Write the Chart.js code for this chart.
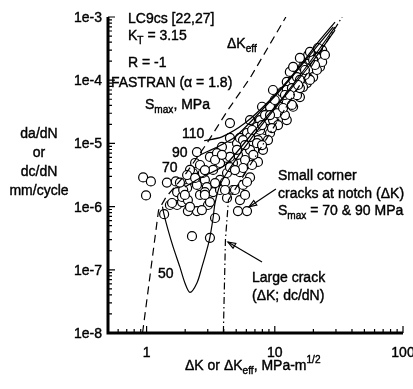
<!DOCTYPE html>
<html>
<head>
<meta charset="utf-8">
<script src="https://cdn.jsdelivr.net/npm/chart.js@4.4.0/dist/chart.umd.min.js"></script>
<style>
html, body { margin: 0; padding: 0; background: #fff; }
</style>
</head>
<body>
<canvas id="c" width="413" height="389"></canvas>
<script>
// axis ticks
var xTicks = [1, 10, 100];
var xTickLabels = ['1', '10', '100'];
var yTicks = [1e-8, 1e-7, 1e-6, 1e-5, 1e-4, 1e-3];
var yTickLabels = ['1e-8', '1e-7', '1e-6', '1e-5', '1e-4', '1e-3'];

// small corner cracks at notch, Smax = 70 & 90 MPa
var crackDK = [0.94, 1.08, 0.99, 1.37, 1.52, 1.73, 1.89, 2.10, 2.47, 2.26, 3.12, 2.61, 3.01, 3.42, 5.16, 6.07,
  1.44, 1.69, 1.58, 1.73, 1.89, 2.07, 2.18, 2.30, 2.10, 2.47, 2.47, 2.39, 3.30, 2.85, 3.30, 3.12, 2.70,
  4.24, 4.72, 5.35, 5.65, 6.41, 7.39, 3.74, 4.72, 4.47, 7.95, 5.07, 3.87, 3.12, 2.61, 2.18, 2.07, 2.39, 2.75,
  4.24, 5.16, 6.41, 7.39, 8.39, 8.69, 7.26, 6.07, 5.35, 4.47, 3.54, 4.47, 5.35, 6.07, 3.74, 2.95, 4.89, 4.24, 2.18,
  9.68, 11.4, 12.4, 15.2, 18.8, 20.6, 22.5, 16.6, 13.9, 11.0, 9.68, 7.67, 6.41, 5.65, 5.07, 4.47, 7.26, 9.18,
  12.4, 13.9, 15.7, 17.8, 19.9, 22.5, 18.2, 21.7, 23.4, 14.9, 13.1, 18.2, 12.4, 9.18, 7.67, 6.41, 7.26, 10.4,
  12.4, 14.9, 16.6, 18.8, 21.3, 19.9, 15.7, 13.9, 23.4,
  5.86, 6.65, 8.09, 8.85, 10.6, 12.0, 13.6, 15.7, 17.2, 5.65, 3.74, 4.09, 3.42, 2.85, 1.93,
  8.39, 10.0, 12.0, 13.6, 15.7, 17.2, 20.6, 24.6, 21.7, 18.8, 11.6, 9.18, 7.95, 6.65, 5.86, 6.8,
  7.95, 9.5, 4.89, 4.09, 2.85, 3.42, 3.87, 2.85, 1.99, 1.82, 5.86, 13.1, 15.2];
var crackRate = [2.9e-6, 2.5e-6, 1.5e-6, 7.6e-7, 1.06e-6, 1.06e-6, 1.18e-6, 8.5e-7, 8.5e-7, 3.4e-7, 3.2e-7, 1.53e-6, 1.06e-6, 6.6e-7, 8.5e-7, 8.5e-7,
  2.4e-6, 2.5e-6, 1.14e-6, 1.7e-6, 1.42e-6, 1.97e-6, 2.64e-6, 3.4e-6, 1.27e-6, 2.2e-6, 7.3e-6, 4.9e-6, 3.8e-6, 2.64e-6, 1.7e-6, 1.18e-6, 8.8e-7,
  3.4e-6, 1.83e-6, 1.27e-6, 2.2e-6, 2.9e-6, 5.1e-6, 4.9e-6, 4.9e-6, 2.1e-5, 3.8e-5, 1.01e-5, 8.8e-6, 6.1e-6, 4.55e-6, 3.8e-6, 3.16e-6, 2.84e-6, 3.4e-6,
  5.9e-6, 6.6e-6, 7.9e-6, 1.13e-5, 1.63e-5, 2.34e-5, 2.1e-5, 1.46e-5, 1.22e-5, 1.22e-5, 7.0e-6, 4.2e-6, 3.5e-6, 2.45e-6, 2.64e-6, 2.04e-6, 1.83e-6, 1.37e-6, 9.9e-7,
  7.0e-5, 6.5e-5, 9.4e-5, 1.3e-4, 2.09e-4, 2.5e-4, 2.7e-4, 1.62e-4, 1.01e-4, 3.8e-5, 2.34e-5, 1.63e-5, 1.26e-5, 1.13e-5, 7.9e-6, 6.1e-6, 1.01e-5, 1.46e-5,
  2.34e-5, 3.8e-5, 5.4e-5, 9.0e-5, 1.12e-4, 1.62e-4, 2.5e-4, 2.3e-4, 1.94e-4, 1.12e-4, 1.35e-4, 1.08e-4, 7.0e-5, 3.8e-5, 2.34e-5, 2.34e-5, 1.82e-5, 3.0e-5,
  4.4e-5, 5.8e-5, 7.8e-5, 1.01e-4, 1.45e-4, 2.09e-4, 2.25e-4, 1.62e-4, 3.0e-4,
  5.46e-6, 4.55e-6, 7.9e-6, 1.13e-5, 1.95e-5, 2.81e-5, 4.06e-5, 7.5e-5, 1.21e-4, 4.08e-6, 1.83e-6, 2.45e-6, 2.36e-6, 1.7e-6, 1.83e-6,
  2.81e-5, 4.86e-5, 5.83e-5, 7.5e-5, 1.01e-4, 1.45e-4, 1.74e-4, 2.51e-4, 3.23e-4, 2.8e-4, 3.63e-5, 2.81e-5, 1.95e-5, 1.63e-5, 9.4e-6, 6.6e-6,
  9.4e-6, 1.75e-5, 3.79e-6, 1.83e-6, 1.53e-6, 5.46e-6, 6.6e-6, 3.79e-6, 1.53e-6, 2.4e-6, 1.53e-6, 5.83e-5, 8.4e-5];

// FASTRAN (alpha = 1.8) curves, Smax in MPa
var fast110DK = [2.81, 3.87, 5.86, 9.18, 14.4, 22.5, 29.5];
var fast110Rate = [1.1e-5, 1.27e-5, 2.1e-5, 4.86e-5, 1.35e-4, 4.33e-4, 8.3e-4];
var fast90DK = [2.61, 3.42, 4.89, 7.67, 12.0, 18.8, 28.6];
var fast90Rate = [6.6e-6, 8.45e-6, 1.26e-5, 3.14e-5, 8.4e-5, 2.51e-4, 6.95e-4];
var fast70DK = [1.99, 2.61, 4.09, 7.01, 11.6, 18.8, 29.5];
var fast70Rate = [2.04e-6, 2.84e-6, 4.55e-6, 1.63e-5, 5.4e-5, 1.94e-4, 6.9e-4];
var fast50DK = [1.33, 1.36, 1.47, 1.61, 1.82, 1.99, 2.18, 2.47, 2.70, 2.95, 3.12, 3.30, 3.42, 3.74, 4.47, 6.41, 11.0, 18.8, 29.5];
var fast50Rate = [1.0e-6, 7.9e-7, 4.27e-7, 2.3e-7, 1.1e-7, 6.2e-8, 4.4e-8, 6.2e-8, 1.1e-7, 2.06e-7, 3.3e-7, 6.6e-7, 1.14e-6, 2.2e-6, 4.08e-6, 1.13e-5, 4.5e-5, 1.74e-4, 6.2e-4];

// dK_eff line and large crack line
var effDK = [0.93, 1.24, 1.42, 1.99, 2.96, 4.31, 6.41, 12.2];
var effRate = [1e-8, 8.8e-7, 1.42e-6, 3.16e-6, 1.01e-5, 3.38e-5, 1.08e-4, 1e-3];
var largeDK = [3.97, 4.12, 4.35, 33.5];
var largeRate = [1e-8, 2.96e-7, 1.27e-6, 1e-3];

// arrows: [fromDK, fromRate, toDK, toRate]
var arrowSmall = [10.2, 1.9e-6, 6.29, 9.9e-7];
var arrowLarge = [7.95, 1.33e-7, 4.31, 2.75e-7];

function pts(xs, ys) {
  return xs.map(function (v, i) { return { x: v, y: ys[i] }; });
}

function lineSet(xs, ys, dash, tension) {
  return {
    data: pts(xs, ys),
    showLine: true,
    borderColor: '#000',
    borderWidth: 1.2,
    borderDash: dash,
    pointRadius: 0,
    tension: tension,
    fill: false
  };
}

var FONT = '"Liberation Sans", Arial, sans-serif';

// text with a thin stroke so it reads as heavy as the scan
function txt(ctx, t, x, y) {
  ctx.fillText(t, x, y);
  ctx.strokeText(t, x, y);
}

function rich(ctx, x, y, parts, size) {
  var cx = x;
  ctx.textBaseline = 'alphabetic';
  ctx.textAlign = 'left';
  parts.forEach(function (p) {
    var s = (p.sub || p.sup) ? size * 0.72 : size;
    ctx.font = s + 'px ' + FONT;
    var dy = p.sub ? size * 0.3 : (p.sup ? -size * 0.48 : 0);
    txt(ctx, p.t, cx, y + dy);
    cx += ctx.measureText(p.t).width;
  });
}

function arrow(ctx, xs, ys, a) {
  var x1 = xs.getPixelForValue(a[0]), y1 = ys.getPixelForValue(a[1]);
  var x2 = xs.getPixelForValue(a[2]), y2 = ys.getPixelForValue(a[3]);
  var ang = Math.atan2(y2 - y1, x2 - x1);
  ctx.beginPath();
  ctx.moveTo(x1, y1);
  ctx.lineTo(x2, y2);
  ctx.stroke();
  ctx.beginPath();
  ctx.moveTo(x2, y2);
  ctx.lineTo(x2 - 8 * Math.cos(ang - 0.35), y2 - 8 * Math.sin(ang - 0.35));
  ctx.lineTo(x2 - 8 * Math.cos(ang + 0.35), y2 - 8 * Math.sin(ang + 0.35));
  ctx.closePath();
  ctx.stroke();
}

var axesPlugin = {
  id: 'axes',
  afterDraw: function (chart) {
    var ctx = chart.ctx, a = chart.chartArea;
    var xs = chart.scales.x, ys = chart.scales.y;
    ctx.save();
    ctx.strokeStyle = '#000';
    ctx.fillStyle = '#000';

    // ticks inside
    ctx.lineWidth = 1.2;
    ctx.beginPath();
    yTicks.forEach(function (v, i) {
      var py = ys.getPixelForValue(v);
      ctx.moveTo(a.left, py); ctx.lineTo(a.left + 7, py);
      if (i < yTicks.length - 1) {
        for (var m = 2; m < 10; m++) {
          var q = ys.getPixelForValue(v * m);
          ctx.moveTo(a.left, q); ctx.lineTo(a.left + 4, q);
        }
      }
    });
    var xAll = [0.5].concat(xTicks);
    xAll.forEach(function (v, i) {
      var px = xs.getPixelForValue(v);
      if (i > 0) { ctx.moveTo(px, a.bottom); ctx.lineTo(px, a.bottom - 7); }
      if (i < xAll.length - 1) {
        var base = i === 0 ? 0.1 : v;
        for (var m = 2; m < 10; m++) {
          var val = base * m;
          if (val <= v || val >= xAll[i + 1]) continue;
          var q = xs.getPixelForValue(val);
          ctx.moveTo(q, a.bottom); ctx.lineTo(q, a.bottom - 4);
        }
      }
    });
    ctx.stroke();

    // axis lines
    ctx.lineWidth = 3;
    ctx.beginPath();
    ctx.moveTo(a.left, a.top);
    ctx.lineTo(a.left, a.bottom);
    ctx.lineTo(a.right, a.bottom);
    ctx.stroke();

    ctx.lineWidth = 0.4;
    // tick labels
    ctx.font = '14px ' + FONT;
    ctx.textBaseline = 'alphabetic';
    ctx.textAlign = 'right';
    yTicks.forEach(function (v, i) {
      txt(ctx, yTickLabels[i], a.left - 6, ys.getPixelForValue(v) + 5);
    });
    ctx.textAlign = 'center';
    xTicks.forEach(function (v, i) {
      txt(ctx, xTickLabels[i], xs.getPixelForValue(v), a.bottom + 24);
    });

    // y title
    ['da/dN', 'or', 'dc/dN', 'mm/cycle'].forEach(function (t, i) {
      txt(ctx, t, 39, 138 + i * 19);
    });

    // x title
    rich(ctx, 185, 370, [{ t: '\u0394K or \u0394K' }, { t: 'eff', sub: true }, { t: ', MPa-m' }, { t: '1/2', sup: true }], 14);

    // annotations
    rich(ctx, 128, 23, [{ t: 'LC9cs [22,27]' }], 14);
    rich(ctx, 128, 40, [{ t: 'K' }, { t: 'T', sub: true }, { t: ' = 3.15' }], 14);
    rich(ctx, 128, 67, [{ t: 'R = -1' }], 14);
    rich(ctx, 111, 87, [{ t: 'FASTRAN (\u03b1 = 1.8)' }], 14);
    rich(ctx, 145, 109, [{ t: 'S' }, { t: 'max', sub: true }, { t: ', MPa' }], 14);
    rich(ctx, 182, 138, [{ t: '110' }], 14);
    rich(ctx, 172, 157, [{ t: '90' }], 14);
    rich(ctx, 162, 172, [{ t: '70' }], 14);
    rich(ctx, 158, 278, [{ t: '50' }], 14);
    rich(ctx, 227, 48, [{ t: '\u0394K' }, { t: 'eff', sub: true }], 14);
    rich(ctx, 278, 180, [{ t: 'Small corner' }], 14);
    rich(ctx, 278, 198, [{ t: 'cracks at notch (\u0394K)' }], 14);
    rich(ctx, 278, 215, [{ t: 'S' }, { t: 'max', sub: true }, { t: ' = 70 & 90 MPa' }], 14);
    rich(ctx, 252, 282, [{ t: 'Large crack' }], 14);
    rich(ctx, 252, 300, [{ t: '(\u0394K; dc/dN)' }], 14);

    ctx.lineWidth = 1.2;
    arrow(ctx, xs, ys, arrowSmall);
    arrow(ctx, xs, ys, arrowLarge);
    ctx.restore();
  }
};

new Chart(document.getElementById('c'), {
  type: 'scatter',
  data: {
    datasets: [
      lineSet(effDK, effRate, [8, 5], 0),
      lineSet(largeDK, largeRate, [7, 3, 1.5, 3], 0),
      lineSet(fast110DK, fast110Rate, [], 0.25),
      lineSet(fast90DK, fast90Rate, [], 0.25),
      lineSet(fast70DK, fast70Rate, [], 0.25),
      lineSet(fast50DK, fast50Rate, [], 0.3),
      {
        data: pts(crackDK, crackRate),
        pointRadius: 4.5,
        borderWidth: 1.2,
        borderColor: '#000',
        backgroundColor: '#fff'
      }
    ]
  },
  options: {
    responsive: false,
    animation: false,
    layout: { padding: { left: 0, right: 10, top: 17, bottom: 0 } },
    plugins: { legend: { display: false }, tooltip: { enabled: false } },
    scales: {
      x: {
        type: 'logarithmic', min: 0.5, max: 100,
        grid: { display: false }, border: { display: false }, ticks: { display: false },
        afterFit: function (s) { s.height = 56; }
      },
      y: {
        type: 'logarithmic', min: 1e-8, max: 1e-3,
        grid: { display: false }, border: { display: false }, ticks: { display: false },
        afterFit: function (s) { s.width = 108; }
      }
    }
  },
  plugins: [axesPlugin]
});
</script>
</body>
</html>
